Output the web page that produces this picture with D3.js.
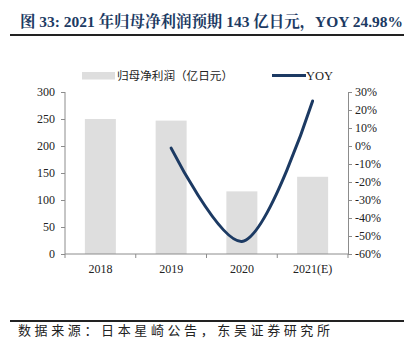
<!DOCTYPE html>
<html><head><meta charset="utf-8">
<script src="https://cdn.jsdelivr.net/npm/d3@7"></script>
<style>body{margin:0;background:#fff}svg{display:block}</style>
</head><body>
<script>
const categories = ["2018","2019","2020","2021(E)"];
const profitValues = [250, 247, 116, 143];
const yoyValues = [null, -1.2, -53.0, 24.98];
const leftTicks = [0,50,100,150,200,250,300];
const rightTicks = [-60,-50,-40,-30,-20,-10,0,10,20,30];
const titleText = "图 33: 2021 年归母净利润预期 143 亿日元，YOY 24.98%";
const sourceText = "数据来源：日本星崎公告，东吴证券研究所";
const legendLabels = ["归母净利润（亿日元）","YOY"];

const W=414,H=338;
const navy="#1c3a63", barColor="#dedede", axisColor="#8c8c8c";
const serif="'Liberation Serif','Times New Roman',serif";
const cjk="'Noto Sans CJK SC','Noto Sans',sans-serif";
const svg=d3.select("body").append("svg").attr("width",W).attr("height",H);

// title
svg.append("text").attr("x",20).attr("y",27).attr("fill",navy)
  .attr("font-family","'Liberation Serif','Noto Serif CJK SC','Noto Sans CJK SC',serif")
  .attr("font-weight","bold").attr("font-size",15.5).attr("textLength",383).attr("lengthAdjust","spacingAndGlyphs").text(titleText);
svg.append("line").attr("x1",10).attr("x2",404).attr("y1",35).attr("y2",35).attr("stroke","#222").attr("stroke-width",2);

const L=65,R=348,T=92,B=254;
const x=d3.scaleBand().domain(categories).range([L,R]);
const yL=d3.scaleLinear().domain([0,300]).range([B,T]);
const yR=d3.scaleLinear().domain([-60,30]).range([B,T]);
const barW=31;

svg.append("g").selectAll("rect").data(categories).join("rect")
  .attr("x",(d)=>x(d)+x.bandwidth()/2-barW/2).attr("width",barW)
  .attr("y",(d,i)=>yL(profitValues[i])).attr("height",(d,i)=>B-yL(profitValues[i]))
  .attr("fill",barColor);

// axes
function styleAxis(g){g.selectAll("path,line").attr("stroke",axisColor);g.selectAll("text").attr("fill","#222").attr("font-family",serif).attr("font-size",12);}
svg.append("g").attr("transform",`translate(${L},0)`)
  .call(d3.axisLeft(yL).tickValues(leftTicks).tickSize(4).tickSizeOuter(0).tickPadding(6)).call(styleAxis).call(g=>g.select(".domain").attr("d",`M0,${T}V${B}`));
svg.append("g").attr("transform",`translate(${R},0)`)
  .call(d3.axisRight(yR).tickValues(rightTicks).tickSize(4).tickSizeOuter(0).tickPadding(3).tickFormat(d=>d+"%")).call(styleAxis);
const xa=svg.append("g").attr("transform",`translate(0,${B})`);
xa.append("line").attr("x1",L).attr("x2",R).attr("stroke",axisColor);
const bounds=categories.map(c=>x(c)).concat([R]);
xa.selectAll("line.t").data(bounds).join("line").attr("class","t").attr("x1",d=>d).attr("x2",d=>d).attr("y1",0).attr("y2",4).attr("stroke",axisColor);
xa.selectAll("text").data(categories).join("text").attr("x",d=>x(d)+x.bandwidth()/2).attr("y",19)
  .attr("text-anchor","middle").attr("font-family",serif).attr("font-size",12).attr("fill","#222").text(d=>d);

// line
const pts=categories.map((c,i)=>[x(c)+x.bandwidth()/2,yoyValues[i]]).filter(p=>p[1]!==null).map(p=>[p[0],yR(p[1])]);
svg.append("path").attr("d",d3.line().curve(d3.curveCatmullRom.alpha(0.5))(pts))
  .attr("fill","none").attr("stroke",navy).attr("stroke-width",3).attr("stroke-linecap","round");

// legend
svg.append("rect").attr("x",82).attr("y",72).attr("width",33).attr("height",7.5).attr("fill",barColor);
svg.append("text").attr("x",117).attr("y",79.5).attr("font-family",cjk).attr("font-size",11.5).attr("fill","#222")
  .attr("textLength",116).attr("lengthAdjust","spacingAndGlyphs").text(legendLabels[0]);
svg.append("line").attr("x1",272).attr("x2",306).attr("y1",75.5).attr("y2",75.5).attr("stroke",navy).attr("stroke-width",3);
svg.append("text").attr("x",306).attr("y",80).attr("font-family",serif).attr("font-size",12.5).attr("fill","#222").text(legendLabels[1]);

// footer
svg.append("line").attr("x1",10).attr("x2",404).attr("y1",321).attr("y2",321).attr("stroke","#222").attr("stroke-width",2);
svg.append("text").attr("x",18).attr("y",335).attr("font-family",cjk).attr("font-size",13).attr("fill","#222")
  .attr("textLength",312).attr("lengthAdjust","spacing").text(sourceText);
</script>
</body></html>
